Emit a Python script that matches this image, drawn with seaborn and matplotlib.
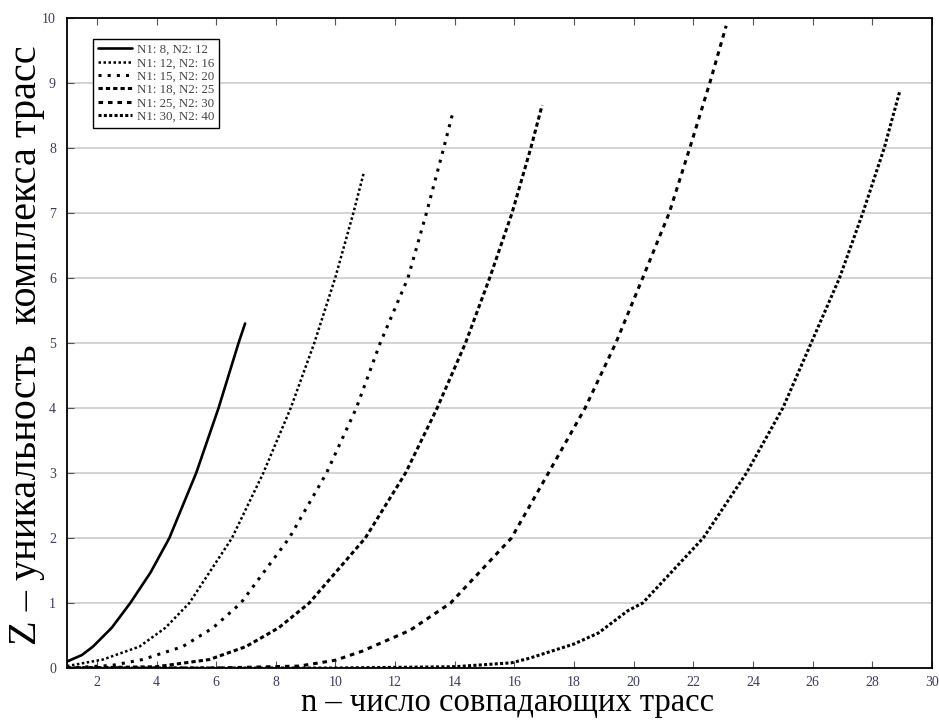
import numpy as np
import pandas as pd
import matplotlib
matplotlib.use("Agg")
import matplotlib.pyplot as plt
import seaborn as sns

# ---- data ----
labels = ["N1: 8, N2: 12", "N1: 12, N2: 16", "N1: 15, N2: 20",
          "N1: 18, N2: 25", "N1: 25, N2: 30", "N1: 30, N2: 40"]

x1 = [1, 1.5, 1.87, 2.5, 3.12, 3.8, 4.43, 5.33, 6.08, 6.75, 6.97]
y1 = [0.10, 0.2, 0.33, 0.62, 1.00, 1.47, 2.0, 3.0, 4.0, 5.0, 5.3]

x2 = [1, 2.2, 3.43, 4.3, 5.1, 6.53, 7.58, 8.5, 9.29, 9.99, 10.6, 10.95]
y2 = [0.03, 0.13, 0.33, 0.62, 1.0, 2.0, 3.0, 4.0, 5.0, 6.0, 7.0, 7.62]

x3 = [1, 2.5, 3.53, 4.88, 5.9, 6.83, 8.45, 9.7, 10.7, 11.5, 12.43, 13.05, 13.63, 13.95]
y3 = [0.0, 0.04, 0.13, 0.33, 0.62, 1.0, 2.0, 3.0, 4.0, 5.0, 6.0, 7.0, 8.0, 8.57]

x4 = [1, 4, 5.77, 7.0, 8.1, 9.12, 11.0, 12.35, 13.41, 14.36, 15.17, 15.92, 16.55, 16.93]
y4 = [0.0, 0.02, 0.13, 0.33, 0.62, 1.0, 2.0, 3.0, 4.0, 5.0, 6.0, 7.0, 8.0, 8.66]

x5 = [1, 6, 8.78, 10.0, 10.9, 12.5, 13.86, 15.9, 17.14, 18.37, 19.4, 20.3, 21.19, 21.88, 22.55, 23.1]
y5 = [0.0, 0.0, 0.03, 0.12, 0.26, 0.58, 1.0, 2.0, 3.0, 4.0, 5.0, 6.0, 7.0, 8.0, 9.0, 9.88]

x6 = [1, 10, 14, 15.9, 16.5, 18.0, 18.82, 19.8, 20.3, 22.33, 23.78, 25.0, 25.95, 26.9, 27.68, 28.4, 28.93]
y6 = [0.0, 0.0, 0.02, 0.08, 0.15, 0.37, 0.54, 0.88, 1.0, 2.0, 3.0, 4.0, 5.0, 6.0, 7.0, 8.0, 8.89]

xticks = list(range(2, 31, 2))
yticks = list(range(0, 11))

series_x = [x1, x2, x3, x4, x5, x6]
series_y = [y1, y2, y3, y4, y5, y6]

styles = [
    dict(linestyle="-", linewidth=1.9),
    dict(linestyle=(0, (1, 1)), linewidth=1.8),
    dict(linestyle=(0, (1, 2)), linewidth=2.2),
    dict(linestyle=(0, (1.4, 1)), linewidth=2.2),
    dict(linestyle=(0, (1.5, 1.6)), linewidth=2.2),
    dict(linestyle=(0, (1, 0.75)), linewidth=2.2),
]

sns.set_theme(style="white")
plt.rcParams["font.family"] = ["Liberation Serif", "DejaVu Serif"]

fig = plt.figure(figsize=(9.39, 7.2), dpi=100)
ax = fig.add_axes([0.0714, 0.0722, 0.9211, 0.9028])

for xs, ys, lab, st in zip(series_x, series_y, labels, styles):
    df = pd.DataFrame({"n": xs, "Z": ys})
    sns.lineplot(data=df, x="n", y="Z", ax=ax, color="black", label=lab,
                 sort=False, estimator=None, **st)

ax.set_xlim(1, 30)
ax.set_ylim(0, 10)
ax.set_xticks(xticks)
ax.set_yticks(yticks)
ax.yaxis.grid(True, color="#cccccc", linewidth=1.2)
ax.xaxis.grid(False)
ax.set_axisbelow(True)

for s in ax.spines.values():
    s.set_color("black")
    s.set_linewidth(1.3)

ax.tick_params(axis="both", direction="in", length=5, width=0.8, color="#555555",
               labelsize=10, labelcolor="#3c3c5c", top=True, right=False,
               left=True, bottom=True)
ax.tick_params(axis="x", pad=6)
ax.tick_params(axis="y", pad=8)

ax.set_xlabel("n – число совпадающих трасс", fontsize=23.5, color="black")
ax.set_ylabel("Z – уникальность  комплекса трасс", fontsize=29, color="black")
ax.xaxis.set_label_coords(0.509, -0.0665)
ax.xaxis.label.set_verticalalignment("baseline")
ax.yaxis.set_label_coords(-0.025, 0.497)

leg = ax.legend(loc="upper left", bbox_to_anchor=(0.03, 0.968), borderaxespad=0,
                fontsize=9.3, frameon=True, fancybox=False, framealpha=1,
                edgecolor="black", handlelength=2.6, labelspacing=0.1,
                borderpad=0.4, handletextpad=0.4)
leg.get_frame().set_linewidth(1.0)
for t in leg.get_texts():
    t.set_color("#444444")

fig.savefig("out.png", dpi=100)
